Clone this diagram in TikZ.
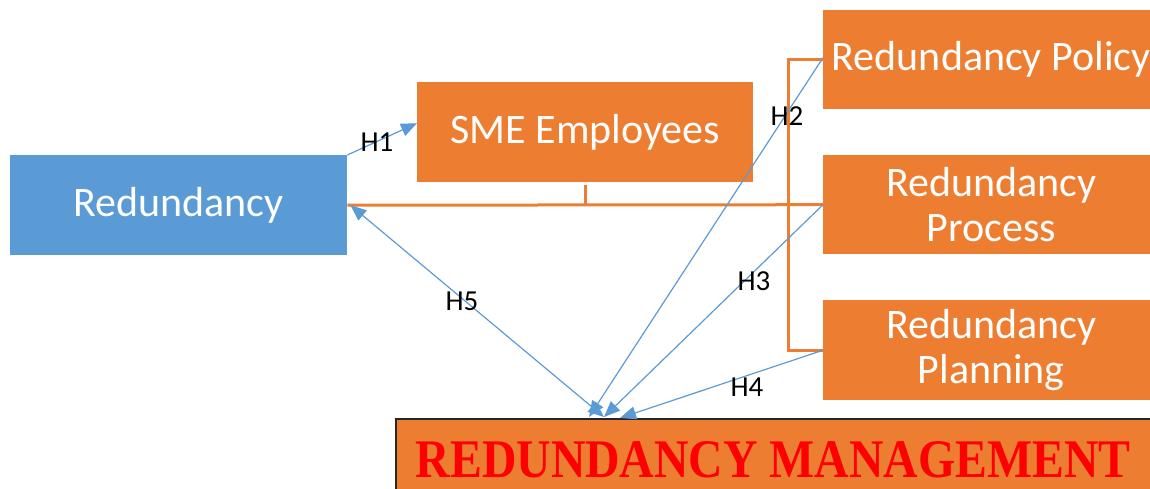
\documentclass[tikz,border=0pt]{standalone}
\usepackage{fontspec}
\usepackage{graphicx}
\setmainfont{Carlito}
\newfontfamily\titlefont{Liberation Serif}
\usetikzlibrary{arrows.meta,calc}
\definecolor{boxblue}{HTML}{5B9BD5}
\definecolor{boxorange}{HTML}{ED7D31}
\definecolor{linkblue}{HTML}{5B9BD5}
\begin{document}
\begin{tikzpicture}[x=1pt,y=-1pt,
  box/.style={draw=none, fill=boxorange, minimum width=336pt, minimum height=100pt,
    inner sep=0pt, text=white, font=\fontsize{42}{45}\selectfont, align=center, anchor=north west},
  link/.style={draw=linkblue, line width=1.2pt, -{Triangle[length=16pt,width=13pt]}},
  bracket/.style={draw=boxorange, line width=3pt},
  hlabel/.style={font=\fontsize{29}{30}\selectfont, inner sep=0pt}]
\path[use as bounding box, clip] (0,0) rectangle (1150,489);

% variable boxes
\node[box, fill=boxblue, minimum width=337pt] (red) at (10,155) {\raisebox{-2pt}{Redundancy}};
\node[box] (sme) at (417,82) {\raisebox{-1pt}{SME Employees}};
\node[box, minimum height=99pt] (policy) at (823,10) {\raisebox{-3pt}{Redundancy Policy}};
\node[box, minimum height=99pt] (process) at (823,155) {Redundancy\\Process};
\node[box] (planning) at (823,300) {Redundancy\\Planning};
\node[box, draw=black!85, line width=1.5pt, minimum width=755pt, minimum height=82pt, text=red]
  (mgmt) at (395,418) {\resizebox{715pt}{36pt}{\titlefont\bfseries REDUNDANCY MANAGEMENT}};

% orange grouping lines
\draw[bracket] (red.east) -- (process.west);
\draw[bracket] ($(sme.south)+(0,3)$) -- (sme.south |- red.east);
\draw[bracket] (policy.west) -| ($(planning.west)+(-35,0)$) -- (planning.west);

% arrow end points on the outcome box
\coordinate (t2) at ($(mgmt.north west)+(194,-1)$);
\coordinate (t3) at ($(mgmt.north west)+(209,-1)$);
\coordinate (t4) at ($(mgmt.north west)+(225,0)$);

% hypothesis arrows
\draw[link] (red.north east) -- ($(sme.west)+(0,-9)$);
\draw[link] ($(policy.west)+(0,-2)$) -- (t2);
\draw[link] (process.west) -- (t3);
\draw[link] (planning.west) -- (t4);
\draw[link, {Triangle[length=16pt,width=13pt]}-{Triangle[length=16pt,width=13pt]}]
  ($(red.east)+(3,0)$) -- (t3);

% hypothesis labels
\node[hlabel] (h1) at (377,142) {H1};
\node[hlabel] (h2) at (787,116) {H2};
\node[hlabel] (h3) at (754,281) {H3};
\node[hlabel] (h4) at (747,387) {H4};
\node[hlabel] (h5) at (462,301) {H5};
\end{tikzpicture}
\end{document}
